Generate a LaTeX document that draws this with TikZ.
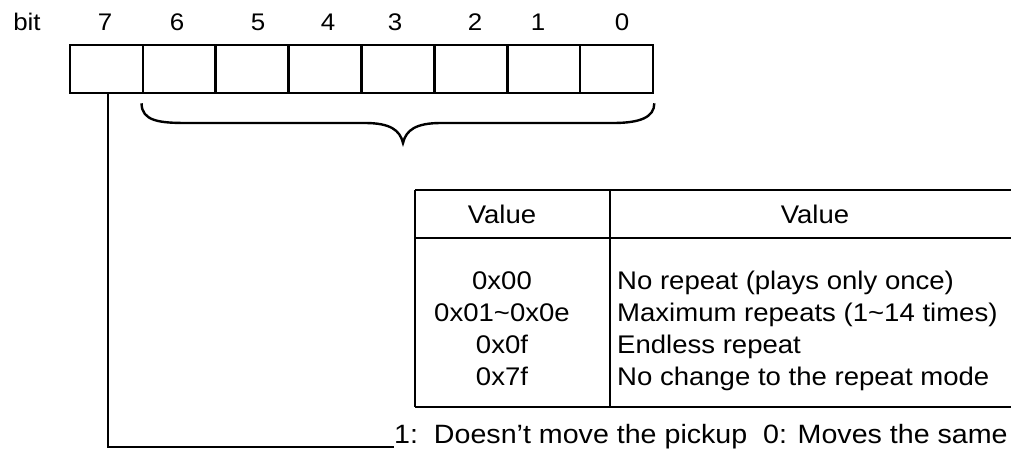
\documentclass[tikz,border=0pt]{standalone}
\usepackage{fontspec}
\usetikzlibrary{calc}
\setmainfont{Liberation Sans}[FakeStretch=1.08]
\begin{document}
\begin{tikzpicture}[x=1pt,y=-1pt,
  cell/.style={draw,line width=2.6pt,minimum width=72.9pt,minimum height=48pt,inner sep=0pt},
  bitlbl/.style={font=\fontsize{24}{28}\selectfont,inner sep=0pt},
  txt/.style={font=\fontsize{25.5}{32}\selectfont,inner sep=0pt},
  note/.style={font=\fontsize{26.5}{32}\selectfont,inner sep=0pt},
  rule/.style={line width=2.8pt},
  wire/.style={line width=2.4pt}]
\useasboundingbox (0,0) rectangle (1011,455);

% register cells, bit 7 on the left
\foreach \b [count=\i from 0] in {7,6,5,4,3,2,1,0}
  \node[cell] (c\b) at ({70+72.875*(\i+0.5)},69) {};

% bit numbers above the cells
\node[bitlbl] (lbit) at (27,22) {bit};
\node[bitlbl] (l7) at (105,22) {7};
\node[bitlbl] (l6) at (177,22) {6};
\node[bitlbl] (l5) at (258,22) {5};
\node[bitlbl] (l4) at (328,22) {4};
\node[bitlbl] (l3) at (395,22) {3};
\node[bitlbl] (l2) at (475,22) {2};
\node[bitlbl] (l1) at (538,22) {1};
\node[bitlbl] (l0) at (622,22) {0};

% brace under bits 6..0
\coordinate (bl) at ([yshift=-9pt]c6.south west);
\coordinate (br) at ([yshift=-9pt]c0.south east);
\coordinate (tip) at (403,143);
\draw[wire] (bl) .. controls ($(bl)+(0,18)$) and (160,123) .. (187,123)
  -- (365,123) .. controls (390,123) and (400,130) .. (tip)
  .. controls (406,130) and (416,123) .. (441,123)
  -- (613,123) .. controls (640,123) and ($(br)+(0,14)$) .. (br);

% value table
\draw[rule] (415,190) -- (1011,190);
\draw[rule] (415,238) -- (1011,238);
\draw[rule] (415,407) -- (1011,407);
\draw[rule] (415,190) -- (415,407);
\draw[rule] (610,190) -- (610,407);

\node[txt] (h1) at (502,214) {Value};
\node[txt] (h2) at (815,214) {Value};

\node[txt,anchor=base] (v1) at (502,289) {0x00};
\node[txt,anchor=base] (v2) at (502,321) {0x01\textasciitilde 0x0e};
\node[txt,anchor=base] (v3) at (502,353) {0x0f};
\node[txt,anchor=base] (v4) at (502,385) {0x7f};

\node[txt,anchor=base west] (d1) at (617,289) {No repeat (plays only once)};
\node[txt,anchor=base west] (d2) at (617,321) {Maximum repeats (1\textasciitilde 14 times)};
\node[txt,anchor=base west] (d3) at (617,353) {Endless repeat};
\node[txt,anchor=base west] (d4) at (617,385) {No change to the repeat mode};

% bit 7 meaning
\node[note,anchor=base west] (m7) at (394,443) {1:\ \ Doesn't move the pickup\ \ 0: Moves the same};
\draw[wire] ([xshift=1.5pt]c7.south) |- ([yshift=-4pt]m7.base west);
\end{tikzpicture}
\end{document}
